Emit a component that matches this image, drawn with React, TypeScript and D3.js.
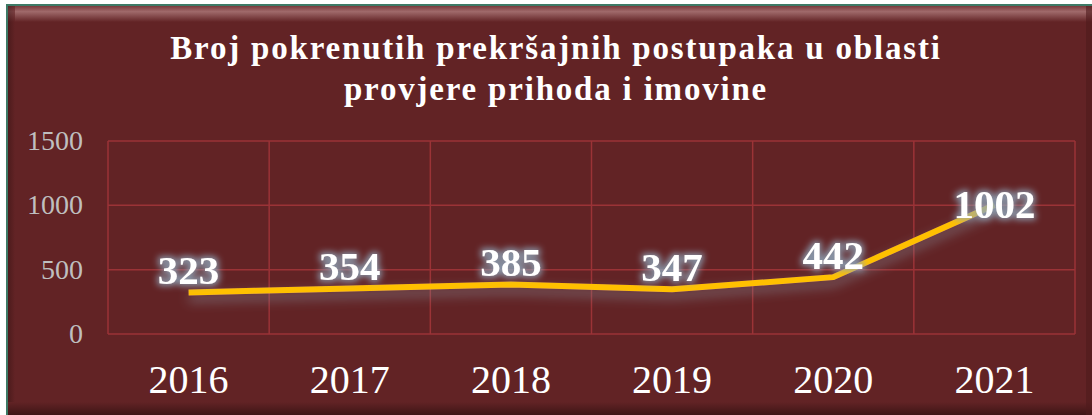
import * as d3 from 'd3';
import React from 'react';

const years = ['2016', '2017', '2018', '2019', '2020', '2021'];
const cases = [323, 354, 385, 347, 442, 1002];
const yTicks = [0, 500, 1000, 1500];
const titleLines = ['Broj pokrenutih prekršajnih postupaka u oblasti', 'provjere prihoda i imovine'];

const width = 1092;
const height = 415;
const plot = { left: 108, right: 1075, top: 141, bottom: 334 };
const serif = '"Liberation Serif", "Times New Roman", serif';

const App = () => {
	const xScale = d3.scaleBand().domain(years).range([plot.left, plot.right]).padding(0);
	const yScale = d3.scaleLinear().domain([0, 1500]).range([plot.bottom, plot.top]);
	const cx = (d: string) => (xScale(d) || 0) + xScale.bandwidth() / 2;

	const points = years.map((y, i) => ({ year: y, value: cases[i] }));
	const line = d3
		.line<{ year: string; value: number }>()
		.x(d => cx(d.year))
		.y(d => yScale(d.value));

	const edges = years.map(y => xScale(y) || 0).concat([plot.right]);

	return (
		<svg
			width={width}
			height={height}
			style={{ position: 'absolute', left: 0, top: 0, background: '#fff' }}
		>
			<defs>
				<linearGradient id="bevelTop" x1="0" y1="0" x2="0" y2="1">
					<stop offset="0" stopColor="#7a3a3c" />
					<stop offset="0.35" stopColor="#a06a6b" />
					<stop offset="1" stopColor="#622325" />
				</linearGradient>
				<linearGradient id="bevelBottom" x1="0" y1="0" x2="0" y2="1">
					<stop offset="0" stopColor="#622325" />
					<stop offset="1" stopColor="#3e1516" />
				</linearGradient>
				<linearGradient id="bevelLeft" x1="0" y1="0" x2="1" y2="0">
					<stop offset="0" stopColor="#3e1516" />
					<stop offset="1" stopColor="#622325" />
				</linearGradient>
				<filter id="lineGlow" x="-10%" y="-50%" width="120%" height="200%">
					<feGaussianBlur in="SourceAlpha" stdDeviation="6" result="blur" />
					<feOffset in="blur" dy="6" result="off" />
					<feFlood floodColor="#8c9aa6" floodOpacity="0.6" />
					<feComposite in2="off" operator="in" result="shadow" />
					<feMerge>
						<feMergeNode in="shadow" />
						<feMergeNode in="SourceGraphic" />
					</feMerge>
				</filter>
				<filter id="textGlow" x="-30%" y="-40%" width="160%" height="180%">
					<feMorphology in="SourceAlpha" operator="dilate" radius="2" result="fat" />
					<feGaussianBlur in="fat" stdDeviation="3" result="blur" />
					<feFlood floodColor="#8ea6ba" floodOpacity="0.85" />
					<feComposite in2="blur" operator="in" result="glow" />
					<feMerge>
						<feMergeNode in="glow" />
						<feMergeNode in="SourceGraphic" />
					</feMerge>
				</filter>
			</defs>

			{/* frame */}
			<rect x={7} y={5} width={width} height={height} fill="#622325" stroke="#3d7a66" strokeWidth={2} />
			<rect x={8} y={6} width={width - 8} height={16} fill="url(#bevelTop)" />
			<rect x={8} y={6} width={7} height={height - 6} fill="url(#bevelLeft)" opacity={0.6} />
			<rect x={8} y={402} width={width - 8} height={13} fill="url(#bevelBottom)" />
			<rect x={1086} y={6} width={6} height={height - 6} fill="#4e1a1c" opacity={0.6} />

			{/* title */}
			{titleLines.map((t, i) => (
				<text
					key={t}
					x={556}
					y={59 + i * 41}
					textAnchor="middle"
					fontFamily={serif}
					fontWeight="bold"
					fontSize={33}
					letterSpacing={1.8}
					fill="#ffffff"
				>
					{t}
				</text>
			))}

			{/* grid */}
			{yTicks.map(t => (
				<g key={t}>
					<line
						x1={plot.left}
						x2={plot.right}
						y1={yScale(t)}
						y2={yScale(t)}
						stroke="#9b3337"
						strokeWidth={1.5}
					/>
					<text
						x={83}
						y={yScale(t) + 9}
						textAnchor="end"
						fontFamily={serif}
						fontSize={28}
						fill="#bfbfbf"
					>
						{t}
					</text>
				</g>
			))}
			{edges.map((e, i) => (
				<line
					key={i}
					x1={e}
					x2={e}
					y1={plot.top}
					y2={plot.bottom}
					stroke="#9b3337"
					strokeWidth={1.5}
				/>
			))}

			{/* x labels */}
			{years.map(y => (
				<text
					key={y}
					x={cx(y)}
					y={393}
					textAnchor="middle"
					fontFamily={serif}
					fontSize={40}
					fill="#ffffff"
				>
					{y}
				</text>
			))}

			{/* series */}
			<path
				d={line(points) || ''}
				fill="none"
				stroke="#ffc000"
				strokeWidth={6}
				strokeLinejoin="round"
				filter="url(#lineGlow)"
			/>

			{points.map((p, i) => (
				<text
					key={p.year}
					x={cx(p.year)}
					y={yScale(p.value) + (i === points.length - 1 ? 13 : -8)}
					textAnchor="middle"
					fontFamily={serif}
					fontWeight="bold"
					fontSize={41}
					fill="#ffffff"
					filter="url(#textGlow)"
				>
					{p.value}
				</text>
			))}
		</svg>
	);
};

export default App;
